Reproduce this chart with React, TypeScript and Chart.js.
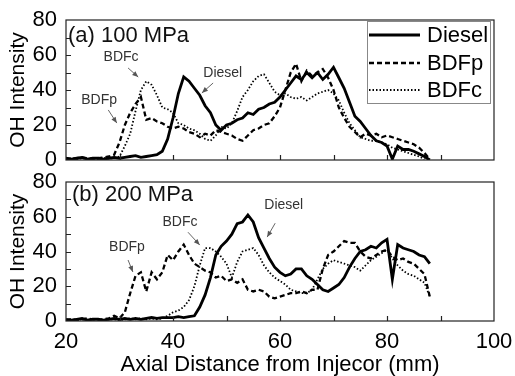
import React, { useEffect, useRef } from "react";
import { Chart, registerables } from "chart.js";
Chart.register(...registerables);

const FONT = "'Liberation Sans', Arial, sans-serif";

// Axial distance (mm)
const distance = [
  20, 21, 22, 23, 24, 25, 26, 27, 28, 29,
  30, 31, 32, 33, 34, 35, 36, 37, 38, 39,
  40, 41, 42, 43, 44, 45, 46, 47, 48, 49,
  50, 51, 52, 53, 54, 55, 56, 57, 58, 59,
  60, 61, 62, 63, 64, 65, 66, 67, 68, 69,
  70, 71, 72, 73, 74, 75, 76, 77, 78, 79,
  80, 81, 82, 83, 84, 85, 86, 87, 88, 89,
];

// (a) 100 MPa
const dieselA = [
  1, 0.5, 1, 1.5, 0.5, 1, 1, 0.5, 1, 1.5,
  1, 1.5, 2, 2.5, 1.5, 2, 2.5, 3, 5, 12,
  24, 38, 47.5, 45, 41, 37, 31, 27, 20, 17,
  20, 21, 23, 24, 27, 26, 29, 30, 32, 33,
  36, 40, 44, 48, 46, 50, 47, 50, 46, 49,
  53, 47, 41, 33, 25, 22, 18, 14, 11, 10,
  8, 0.5, 8, 6, 6, 5, 3.5, 2, 0, null,
];
const bdfpA = [
  1, 0.5, 1, 1.5, 1, 0.5, 1, 1.5, 2, 3,
  10, 20, 27, 32, 36, 23, 24, 22, 21, 19,
  18, 19, 18, 16, 15, 13, 15, 14, 17, 16,
  15, 14, 12, 11, 14, 17, 18, 20, 21, 25,
  30, 40, 50, 55, 45, 51, 48, 50, 52, 47,
  40, 30, 24, 19, 16, 13, 15, 14, 15, 13,
  14, 13, 12, 11, 10, 9, 7, 4, 0.5, null,
];
const bdfcA = [
  0.5, 1, 0.5, 1, 0.5, 1, 0.5, 1, 1, 1,
  2, 8, 15, 28, 40, 45, 43, 37, 30, 29,
  27, 21, 20, 18, 17, 15, 12, 11, 14, 19,
  18, 21, 28, 36, 40, 45, 48, 49, 44, 39,
  37, 38, 36, 35, 36, 34, 36, 38, 39, 40,
  38, 34, 27, 21, 17, 13, 12, 11, 11, 10,
  9, 7, 6, 5, 4, 3, 2, 0.5, null, null,
];

// (b) 200 MPa
const dieselB = [
  1, 0.5, 1, 1.5, 0.5, 1, 1, 0.5, 1, 1.5,
  1, 1.5, 1, 1.5, 1, 1.5, 2, 1.5, 2, 2,
  2, 2.5, 2, 2.5, 3, 8, 15, 25, 38, 43,
  46, 50, 56, 57, 61, 57, 48, 42, 36, 31,
  28, 26, 27, 30, 30, 26, 24, 21, 18, 17,
  19, 21, 25, 31, 36, 40, 41, 43, 42, 45,
  47, 24, 44, 42, 41, 40, 38, 37, 33, null,
];
const bdfpB = [
  0.5, 1, 0.5, 1, 1.5, 1, 0.5, 1, 1.5, 3,
  1.5, 5, 16, 26, 28, 17, 28, 24, 28, 38,
  35, 40, 44, 38, 33, 31, 29, 28, 25, 26,
  23, 24, 22, 24, 18, 17, 18, 17, 14, 13,
  14, 15, 16, 16, 17, 16, 18, 18, 30, 38,
  40, 43, 46, 45, 45, 40, 37, 36, 38, 40,
  41, 37, 35, 36, 34, 33, 30, 27, 14, null,
];
const bdfcB = [
  0.5, 1, 0.5, 1, 0.5, 1, 1, 0.5, 1, 1,
  0.5, 1, 1.5, 1, 1.5, 1, 1.5, 1, 1.5, 3,
  5, 6, 8, 12, 20, 32, 42, 42, 40, 37,
  33, 25, 34, 40, 41, 42, 38, 32, 28, 25,
  23, 21, 18, 17, 16, 16, 18, 24, 30, 33,
  35, 34, 33, 32, 31, 29, 32, 35, 37, 39,
  41, 36, 32, 29, 27, 26, 24, 22, 14, null,
];

const seriesNames = ["Diesel", "BDFp", "BDFc"];
const xTicks = [20, 40, 60, 80, 100];
const yTicks = [0, 20, 40, 60, 80];
const xMinor = [30, 40, 50, 60, 70, 80, 90];
const yMinor = [10, 20, 30, 40, 50, 60, 70];

type Note = { text: string; tx: number; ty: number; x1: number; y1: number; x2: number; y2: number };
const notesA: Note[] = [
  { text: "BDFc", tx: 30.3, ty: 58.9, x1: 31.6, y1: 52.6, x2: 33.5, y2: 47.4 },
  { text: "BDFp", tx: 26.2, ty: 34.3, x1: 27.9, y1: 28.6, x2: 29.5, y2: 21.1 },
  { text: "Diesel", tx: 49.3, ty: 49.7, x1: 47.5, y1: 44, x2: 45.4, y2: 38.3 },
];
const notesB: Note[] = [
  { text: "BDFp", tx: 31.4, ty: 42.5, x1: 31.6, y1: 35.1, x2: 32.5, y2: 28.2 },
  { text: "BDFc", tx: 41.3, ty: 56.9, x1: 42.8, y1: 51.1, x2: 45.0, y2: 43.7 },
  { text: "Diesel", tx: 60.7, ty: 66.7, x1: 59.1, y1: 56.3, x2: 57.6, y2: 48.3 },
];

const styles = [
  { borderWidth: 2.8, borderDash: [] as number[] },
  { borderWidth: 2.3, borderDash: [5, 3] },
  { borderWidth: 1.8, borderDash: [1.5, 2] },
];

const decorPlugin = {
  id: "decor",
  afterDatasetsDraw(chart: any, _args: any, opts: any) {
    const { ctx, chartArea: a, scales } = chart;
    ctx.save();
    ctx.strokeStyle = "#222";
    ctx.lineWidth = 1.2;
    ctx.setLineDash([]);
    ctx.strokeRect(a.left, a.top, a.right - a.left, a.bottom - a.top);
    ctx.beginPath();
    for (const v of xMinor) {
      const px = Math.round(scales.x.getPixelForValue(v)) + 0.5;
      ctx.moveTo(px, a.bottom);
      ctx.lineTo(px, a.bottom - 5);
    }
    for (const v of yMinor) {
      const py = Math.round(scales.y.getPixelForValue(v)) + 0.5;
      ctx.moveTo(a.left, py);
      ctx.lineTo(a.left + 5, py);
    }
    ctx.stroke();

    // panel label
    ctx.fillStyle = "#111";
    ctx.font = `22px ${FONT}`;
    ctx.textBaseline = "alphabetic";
    ctx.textAlign = "left";
    ctx.fillText(opts.label, a.left + opts.lx, a.top + opts.ly);

    // annotations
    for (const n of opts.notes as Note[]) {
      const tx = scales.x.getPixelForValue(n.tx);
      const ty = scales.y.getPixelForValue(n.ty);
      ctx.font = `14px ${FONT}`;
      ctx.fillStyle = "#333";
      ctx.textAlign = "center";
      ctx.textBaseline = "middle";
      ctx.fillText(n.text, tx, ty);
      const x1 = scales.x.getPixelForValue(n.x1);
      const y1 = scales.y.getPixelForValue(n.y1);
      const x2 = scales.x.getPixelForValue(n.x2);
      const y2 = scales.y.getPixelForValue(n.y2);
      ctx.strokeStyle = "#666";
      ctx.fillStyle = "#555";
      ctx.lineWidth = 1;
      ctx.beginPath();
      ctx.moveTo(x1, y1);
      ctx.lineTo(x2, y2);
      ctx.stroke();
      const ang = Math.atan2(y2 - y1, x2 - x1);
      const L = 6, W = 2.5;
      ctx.beginPath();
      ctx.moveTo(x2, y2);
      ctx.lineTo(x2 - L * Math.cos(ang) + W * Math.sin(ang), y2 - L * Math.sin(ang) - W * Math.cos(ang));
      ctx.lineTo(x2 - L * Math.cos(ang) - W * Math.sin(ang), y2 - L * Math.sin(ang) + W * Math.cos(ang));
      ctx.closePath();
      ctx.fill();
    }

    // legend
    if (opts.legend) {
      const bw = 123, bh = 82;
      const bx = a.right - 4 - bw;
      const by = a.top + 1;
      ctx.fillStyle = "#fff";
      ctx.fillRect(bx, by, bw, bh);
      ctx.strokeStyle = "#888";
      ctx.lineWidth = 1;
      ctx.strokeRect(bx + 0.5, by + 0.5, bw, bh);
      const rows = [14, 42, 69];
      seriesNames.forEach((name, i) => {
        const yy = by + rows[i];
        ctx.strokeStyle = "#000";
        ctx.lineWidth = styles[i].borderWidth;
        ctx.setLineDash(styles[i].borderDash);
        ctx.beginPath();
        ctx.moveTo(bx + 2, yy);
        ctx.lineTo(bx + 53, yy);
        ctx.stroke();
        ctx.setLineDash([]);
        ctx.fillStyle = "#000";
        ctx.font = `22px ${FONT}`;
        ctx.textAlign = "left";
        ctx.textBaseline = "middle";
        ctx.fillText(name, bx + 60, yy + 1);
      });
    }
    ctx.restore();
  },
};

function makeDatasets(vals: (number | null)[][]) {
  return vals.map((v, i) => ({
    label: seriesNames[i],
    data: distance.map((x, j) => ({ x, y: v[j] })),
    borderColor: "#000",
    backgroundColor: "#000",
    borderWidth: styles[i].borderWidth,
    borderDash: styles[i].borderDash,
    pointRadius: 0,
    tension: 0,
    spanGaps: false,
  }));
}

function makeConfig(vals: (number | null)[][], bottom: boolean, label: string, notes: Note[], legend: boolean, ly: number): any {
  return {
    type: "line",
    data: { datasets: makeDatasets(vals) },
    plugins: [decorPlugin],
    options: {
      animation: false,
      responsive: false,
      events: [],
      layout: { padding: { top: bottom ? 12 : 20, right: 21, left: 0, bottom: 0 } },
      plugins: {
        legend: { display: false },
        tooltip: { enabled: false },
        decor: { label, notes, legend, lx: bottom ? 6 : 2, ly },
      },
      scales: {
        x: {
          type: "linear",
          min: 20,
          max: 100,
          grid: { display: false, drawTicks: false },
          border: { display: false },
          ticks: {
            display: bottom,
            stepSize: 20,
            maxRotation: 0,
            autoSkip: false,
            padding: 8,
            color: "#000",
            font: { family: FONT, size: 22 },
          },
          afterBuildTicks: (s: any) => {
            s.ticks = xTicks.map((v) => ({ value: v }));
          },
          title: {
            display: bottom,
            text: "Axial Distance from Injecor (mm)",
            color: "#000",
            font: { family: FONT, size: 22, lineHeight: 1.0 },
            padding: { top: 0, bottom: 0 },
          },
          afterFit: (s: any) => {
            s.height = bottom ? 55 : 10;
            s.paddingLeft = 0;
            s.paddingRight = 0;
            s.paddingTop = 0;
            s.paddingBottom = 0;
          },
        },
        y: {
          min: 0,
          max: 80,
          grid: { display: false, drawTicks: false },
          border: { display: false },
          ticks: {
            stepSize: 20,
            padding: 9,
            color: "#000",
            font: { family: FONT, size: 22 },
          },
          afterBuildTicks: (s: any) => {
            s.ticks = yTicks.map((v) => ({ value: v }));
          },
          title: {
            display: true,
            text: "OH Intensity",
            color: "#000",
            font: { family: FONT, size: 21 },
            padding: { top: 6, bottom: 0 },
          },
          afterFit: (s: any) => {
            s.width = 66;
            s.paddingLeft = 0;
            s.paddingRight = 0;
            s.paddingTop = 0;
            s.paddingBottom = 0;
          },
        },
      },
    },
  };
}

export default function App() {
  const topRef = useRef<HTMLCanvasElement>(null);
  const botRef = useRef<HTMLCanvasElement>(null);
  useEffect(() => {
    const c1 = new Chart(
      topRef.current as HTMLCanvasElement,
      makeConfig([dieselA, bdfpA, bdfcA], false, "(a) 100 MPa", notesA, true, 22)
    );
    const c2 = new Chart(
      botRef.current as HTMLCanvasElement,
      makeConfig([dieselB, bdfpB, bdfcB], true, "(b) 200 MPa", notesB, false, 19)
    );
    return () => {
      c1.destroy();
      c2.destroy();
    };
  }, []);
  return (
    <div style={{ position: "absolute", left: 0, top: 0, width: 515, height: 376, background: "#fff" }}>
      <canvas ref={topRef} width={515} height={170} style={{ position: "absolute", left: 0, top: 0, width: 515, height: 170 }} />
      <canvas ref={botRef} width={515} height={206} style={{ position: "absolute", left: 0, top: 170, width: 515, height: 206 }} />
    </div>
  );
}
